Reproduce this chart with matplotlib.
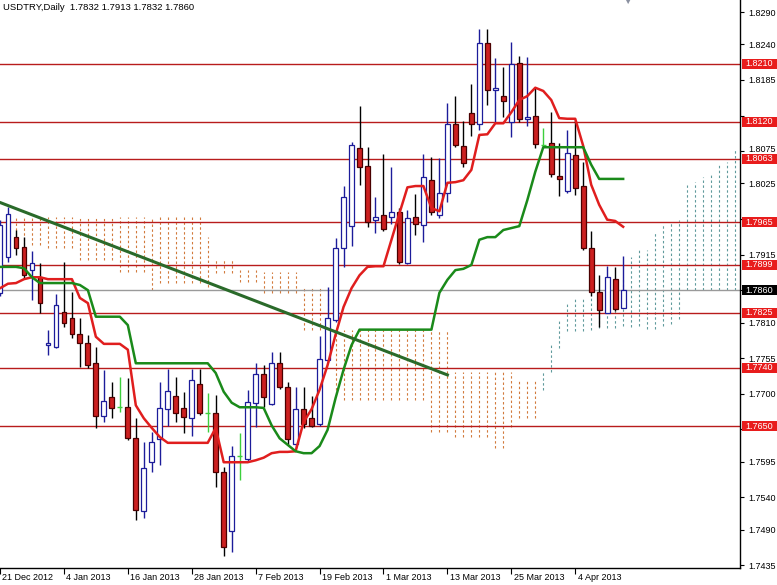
import numpy as np
import matplotlib
matplotlib.use("Agg")
import matplotlib.pyplot as plt
from matplotlib.patches import Rectangle
from matplotlib.transforms import blended_transform_factory, ScaledTranslation

plt.rcParams['font.family'] = ['Liberation Sans', 'DejaVu Sans']

title_text = "USDTRY,Daily  1.7832 1.7913 1.7832 1.7860"

# daily candles, bar 0 = 21 Dec 2012
opens = [1.7856, 1.7911, 1.7942, 1.7927, 1.7891, 1.7880, 1.7775, 1.7772, 1.7826, 1.7817,
         1.7792, 1.7778, 1.7747, 1.7665, 1.7695, 1.7679, 1.7679, 1.7631, 1.7519, 1.7594,
         1.7630, 1.7676, 1.7696, 1.7678, 1.7662, 1.7715, 1.7670, 1.7670, 1.7579, 1.7488,
         1.7604, 1.7599, 1.7686, 1.7730, 1.7684, 1.7747, 1.7710, 1.7622, 1.7676, 1.7662,
         1.7653, 1.7752, 1.7814, 1.7925, 1.7959, 1.8080, 1.8052, 1.7969, 1.7976, 1.7973,
         1.7981, 1.7902, 1.7973, 1.7961, 1.8030, 1.7976, 1.8010, 1.8117, 1.8083, 1.8134,
         1.8117, 1.8242, 1.8169, 1.8160, 1.8120, 1.8211, 1.8125, 1.8129, 1.8084, 1.8088,
         1.8036, 1.8013, 1.8069, 1.8021, 1.7925, 1.7857, 1.7825, 1.7877, 1.7832]
highs = [1.7969, 1.7989, 1.7953, 1.7942, 1.7921, 1.7902, 1.7799, 1.7854, 1.7904, 1.7857,
         1.7817, 1.7791, 1.7772, 1.7737, 1.7718, 1.7726, 1.7724, 1.7662, 1.7625, 1.7641,
         1.7718, 1.7738, 1.7726, 1.7703, 1.7738, 1.7738, 1.7701, 1.7698, 1.7587, 1.7619,
         1.7639, 1.7706, 1.7747, 1.7744, 1.7764, 1.7764, 1.7718, 1.7710, 1.7710, 1.7696,
         1.7789, 1.7865, 1.7941, 1.8021, 1.8089, 1.8145, 1.8081, 1.8004, 1.8071, 1.8050,
         1.7987, 1.7984, 1.8009, 1.8071, 1.8066, 1.8064, 1.8149, 1.8160, 1.8122, 1.8179,
         1.8264, 1.8264, 1.8219, 1.8205, 1.8244, 1.8222, 1.8220, 1.8173, 1.8111, 1.8135,
         1.8088, 1.8108, 1.8123, 1.8058, 1.7951, 1.7883, 1.7897, 1.7896, 1.7913]
lows = [1.7851, 1.7904, 1.7914, 1.7879, 1.7845, 1.7825, 1.7760, 1.7771, 1.7803, 1.7786,
        1.7741, 1.7740, 1.7647, 1.7656, 1.7662, 1.7672, 1.7628, 1.7505, 1.7508, 1.7579,
        1.7590, 1.7650, 1.7656, 1.7639, 1.7635, 1.7667, 1.7641, 1.7556, 1.7449, 1.7455,
        1.7567, 1.7596, 1.7648, 1.7679, 1.7682, 1.7707, 1.7621, 1.7616, 1.7647, 1.7648,
        1.7650, 1.7749, 1.7811, 1.7896, 1.7928, 1.8023, 1.7958, 1.7948, 1.7951, 1.7962,
        1.7900, 1.7900, 1.7945, 1.7935, 1.7976, 1.7972, 1.7996, 1.8081, 1.8050, 1.8098,
        1.8108, 1.8146, 1.8120, 1.8128, 1.8097, 1.8120, 1.8114, 1.8080, 1.8080, 1.8035,
        1.8006, 1.8010, 1.8007, 1.7922, 1.7851, 1.7803, 1.7825, 1.7828, 1.7832]
closes = [1.7961, 1.7978, 1.7925, 1.7883, 1.7902, 1.7840, 1.7778, 1.7837, 1.7809, 1.7792,
          1.7778, 1.7744, 1.7665, 1.7689, 1.7678, 1.7679, 1.7631, 1.7520, 1.7585, 1.7625,
          1.7678, 1.7704, 1.7670, 1.7664, 1.7721, 1.7670, 1.7670, 1.7579, 1.7463, 1.7604,
          1.7604, 1.7687, 1.7730, 1.7695, 1.7747, 1.7710, 1.7630, 1.7676, 1.7653, 1.7650,
          1.7754, 1.7817, 1.7925, 1.8004, 1.8084, 1.8050, 1.7965, 1.7973, 1.7955, 1.7981,
          1.7904, 1.7972, 1.7962, 1.8035, 1.7981, 1.8010, 1.8117, 1.8084, 1.8057, 1.8117,
          1.8242, 1.8169, 1.8173, 1.8152, 1.8210, 1.8125, 1.8128, 1.8086, 1.8084, 1.8040,
          1.8032, 1.8072, 1.8018, 1.7925, 1.7857, 1.7829, 1.7880, 1.7831, 1.7860]

# Ichimoku lines
tenkan = [1.7863, 1.7870, 1.7871, 1.7877, 1.7880, 1.7880, 1.7877, 1.7877, 1.7877, 1.7877,
          1.7848, 1.7840, 1.7788, 1.7777, 1.7777, 1.7777, 1.7768, 1.7682, 1.7662, 1.7647,
          1.7633, 1.7624, 1.7624, 1.7624, 1.7624, 1.7624, 1.7624, 1.7647, 1.7594, 1.7594,
          1.7594, 1.7594, 1.7597, 1.7601, 1.7608, 1.7610, 1.7610, 1.7611, 1.7656, 1.7676,
          1.7706, 1.7744, 1.7791, 1.7834, 1.7863, 1.7883, 1.7896, 1.7897, 1.7897, 1.7938,
          1.7979, 1.8019, 1.8021, 1.8021, 1.7987, 1.7982, 1.8026, 1.8027, 1.8030, 1.8046,
          1.8100, 1.8101, 1.8118, 1.8118, 1.8135, 1.8154, 1.8160, 1.8173, 1.8168, 1.8154,
          1.8126, 1.8125, 1.8125, 1.8083, 1.8023, 1.7992, 1.7969, 1.7967, 1.7958]
kijun = [1.7896, 1.7896, 1.7896, 1.7894, 1.7880, 1.7871, 1.7871, 1.7871, 1.7871, 1.7871,
         1.7868, 1.7860, 1.7819, 1.7819, 1.7819, 1.7819, 1.7806, 1.7747, 1.7747, 1.7747,
         1.7747, 1.7747, 1.7747, 1.7747, 1.7747, 1.7747, 1.7747, 1.7732, 1.7703, 1.7686,
         1.7679, 1.7679, 1.7679, 1.7678, 1.7651, 1.7631, 1.7621, 1.7611, 1.7608, 1.7608,
         1.7619, 1.7644, 1.7693, 1.7737, 1.7775, 1.7799, 1.7799, 1.7799, 1.7799, 1.7799,
         1.7799, 1.7799, 1.7799, 1.7799, 1.7799, 1.7856, 1.7876, 1.7891, 1.7893, 1.7899,
         1.7938, 1.7942, 1.7942, 1.7953, 1.7956, 1.7959, 1.7999, 1.8043, 1.8081, 1.8081,
         1.8081, 1.8081, 1.8081, 1.8081, 1.8054, 1.8032, 1.8032, 1.8032, 1.8032]

# cloud (senkou spans), starting at bar 2 and running 14 bars past the last candle
cloud_start = 2
span_a = [1.7930, 1.7930, 1.7930, 1.7930, 1.7925, 1.7925, 1.7925, 1.7925,
          1.7907, 1.7907, 1.7907, 1.7907, 1.7907, 1.7888, 1.7888, 1.7888, 1.7888,
          1.7860, 1.7871, 1.7871, 1.7871, 1.7871, 1.7871, 1.7871, 1.7865,
          1.7887, 1.7887, 1.7887, 1.7873, 1.7873, 1.7873,
          1.7856, 1.7856, 1.7856, 1.7856, 1.7856, 1.7799, 1.7799, 1.7799, 1.7799,
          1.7706, 1.7690, 1.7690, 1.7690, 1.7690, 1.7690, 1.7690, 1.7690, 1.7690,
          1.7690, 1.7690, 1.7690, 1.7641, 1.7641, 1.7641,
          1.7633, 1.7633, 1.7633, 1.7633, 1.7633, 1.7616, 1.7616, 1.7648,
          1.7662, 1.7662, 1.7662,
          1.7733, 1.7775, 1.7814, 1.7842, 1.7848, 1.7849, 1.7849, 1.7851, 1.7860,
          1.7871, 1.7880, 1.7911, 1.7922, 1.7922, 1.7950, 1.7961, 1.7965, 1.7969,
          1.8023, 1.8027, 1.8035, 1.8038, 1.8057, 1.8058, 1.8077]
span_b = [1.7973, 1.7973, 1.7973, 1.7973, 1.7973, 1.7973, 1.7973, 1.7973,
          1.7973, 1.7973, 1.7973, 1.7973, 1.7973, 1.7973, 1.7973, 1.7973, 1.7973,
          1.7973, 1.7973, 1.7973, 1.7973, 1.7973, 1.7973, 1.7973, 1.7942,
          1.7907, 1.7907, 1.7907, 1.7891, 1.7891, 1.7891,
          1.7888, 1.7888, 1.7888, 1.7888, 1.7888, 1.7865, 1.7865, 1.7865, 1.7865,
          1.7799, 1.7799, 1.7799, 1.7799, 1.7799, 1.7799, 1.7799, 1.7799, 1.7799,
          1.7799, 1.7799, 1.7799, 1.7799, 1.7799, 1.7799,
          1.7733, 1.7733, 1.7733, 1.7733, 1.7733, 1.7733, 1.7733, 1.7733,
          1.7721, 1.7721, 1.7721,
          1.7706, 1.7733, 1.7771, 1.7797, 1.7797, 1.7797, 1.7799, 1.7801, 1.7802,
          1.7802, 1.7805, 1.7803, 1.7805, 1.7800, 1.7800, 1.7805, 1.7808, 1.7815,
          1.7860, 1.7860, 1.7860, 1.7860, 1.7860, 1.7860, 1.7860]

level_prices = [1.8210, 1.8120, 1.8063, 1.7965, 1.7899, 1.7825, 1.7740, 1.7650]
last_price = 1.7860

trend_bars = [0.125, 56]
trend_prices = [1.7995, 1.7729]

date_ticks = [0, 8, 16, 24, 32, 40, 48, 56, 64, 72]
date_labels = ["21 Dec 2012", "4 Jan 2013", "16 Jan 2013", "28 Jan 2013", "7 Feb 2013",
               "19 Feb 2013", "1 Mar 2013", "13 Mar 2013", "25 Mar 2013", "4 Apr 2013"]
price_ticks = [1.8290, 1.8240, 1.8185, 1.8130, 1.8075, 1.8025, 1.7970, 1.7915, 1.7860,
               1.7810, 1.7755, 1.7700, 1.7645, 1.7595, 1.7540, 1.7490, 1.7435]
# scale labels that sit under the coloured price boxes
hidden_ticks = [1.8130, 1.7970, 1.7860, 1.7645]

W, H = 777, 585
fig = plt.figure(figsize=(W / 100, H / 100), dpi=100)
ax = fig.add_axes([0, 17 / H, 740 / W, 568 / H])
ax.set_xlim(0.125, 92.625)
ax.set_ylim(1.74305, 1.83086)

# cloud as dotted columns
cx = np.arange(cloud_start, cloud_start + len(span_a))
sa = np.array(span_a)
sb = np.array(span_b)
bear = sa < sb
ax.vlines(cx[bear], sa[bear], sb[bear], colors='#d27a3c', lw=0.8,
          linestyles=(0, (2.2, 2.2)), zorder=1)
ax.vlines(cx[~bear], sb[~bear], sa[~bear], colors='#5f9a9c', lw=0.8,
          linestyles=(0, (2.2, 2.2)), zorder=1)

# support / resistance levels
for p in level_prices:
    ax.axhline(p, color='#b81c1c', lw=1.0, zorder=2)
ax.axhline(last_price, color='#9a9a9a', lw=1.0, zorder=2)

# candles
x = np.arange(len(opens))
o = np.array(opens)
hi = np.array(highs)
lo = np.array(lows)
c = np.array(closes)
up = c > o
dn = c < o
dj = c == o
bull_col = '#1c1c9a'
ax.vlines(x[up], lo[up], hi[up], color=bull_col, lw=1.0, zorder=3)
ax.vlines(x[dn], lo[dn], hi[dn], color='black', lw=1.0, zorder=3)
ax.bar(x[up], c[up] - o[up], bottom=o[up], width=0.6, facecolor='white',
       edgecolor=bull_col, lw=0.9, zorder=4)
ax.bar(x[dn], o[dn] - c[dn], bottom=c[dn], width=0.6, facecolor='#cc2020',
       edgecolor='#4a0000', lw=0.9, zorder=4)
ax.vlines(x[dj], lo[dj], hi[dj], color='#3ccf3c', lw=1.0, zorder=4)
ax.hlines(c[dj], x[dj] - 0.3, x[dj] + 0.3, color='#3ccf3c', lw=1.0, zorder=4)

# tenkan / kijun / trendline
ax.plot(x, tenkan, color='#e01e1e', lw=1.8, zorder=5, solid_joinstyle='round')
ax.plot(x, kijun, color='#1a8a1a', lw=1.8, zorder=5, solid_joinstyle='round')
ax.plot(trend_bars, trend_prices, color='#2a6a2a', lw=2.2, zorder=6)

# axes styling
for s in ['left', 'top']:
    ax.spines[s].set_visible(False)
for s in ['right', 'bottom']:
    ax.spines[s].set_color('black')
    ax.spines[s].set_linewidth(1.0)
ax.yaxis.tick_right()
ax.set_yticks(price_ticks)
ax.set_yticklabels(["" if p in hidden_ticks else f"{p:.4f}" for p in price_ticks])
ax.tick_params(axis='y', direction='out', length=3, pad=3, labelsize=6.5, colors='black')
# nudge 1.8075 up a little so the 1.8063 box does not cover it
for lab, p in zip(ax.get_yticklabels(), price_ticks):
    if p == 1.8075:
        lab.set_transform(lab.get_transform() + ScaledTranslation(0, 3 / 100, fig.dpi_scale_trans))
ax.set_xticks(date_ticks)
ax.set_xticklabels([])
ax.tick_params(axis='x', direction='out', length=4, colors='black')

tx = blended_transform_factory(ax.transData, ax.transAxes)
for t, lab in zip(date_ticks, date_labels):
    ax.text(t + 0.3, -10 / 568, lab, transform=tx, ha='left', va='center',
            fontsize=6.5, clip_on=False)

# price labels on the right scale
ty = blended_transform_factory(fig.transFigure, ax.transData)
box_h = 10 * (1.83086 - 1.74305) / 568
for p, col in [(v, '#e81c1c') for v in level_prices] + [(last_price, 'black')]:
    ax.add_patch(Rectangle((742 / W, p - box_h / 2), 35 / W, box_h, transform=ty,
                           facecolor=col, edgecolor='none', zorder=10, clip_on=False))
    ax.text(759.5 / W, p, f"{p:.4f}", transform=ty, ha='center', va='center',
            color='white', fontsize=6.5, zorder=11, clip_on=False)

fig.text(3 / W, 1 - 7 / H, title_text, ha='left', va='center', fontsize=6.8)
fig.text(627 / W, 1 - 2 / H, u"\u25BC", ha='center', va='center', fontsize=6,
         color='#8a90a0')

fig.savefig("out.png", dpi=100)
